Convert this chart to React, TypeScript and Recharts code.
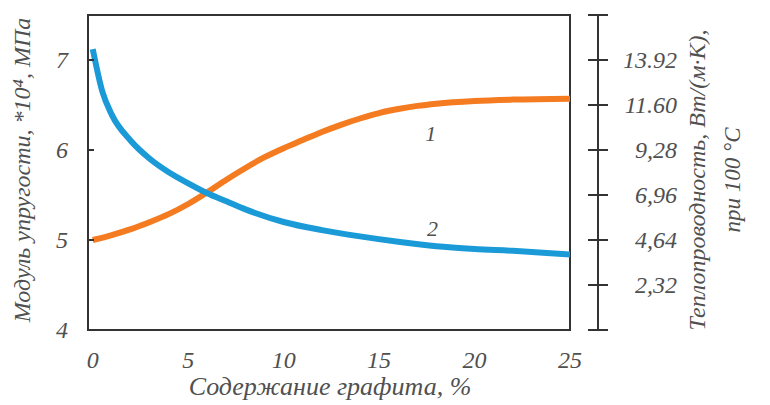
import React from 'react';
import { LineChart, Line, XAxis, YAxis, ReferenceArea, ReferenceDot } from 'recharts';

// curve 1 (orange) and curve 2 (blue), read in left-axis units
const orangeX = [0, 1, 2, 3, 4, 5, 6, 7, 8, 9, 10, 11, 12, 13, 14, 15, 16, 17, 18, 20, 22, 25];
const orangeY = [5.0, 5.055, 5.12, 5.2, 5.29, 5.4, 5.53, 5.67, 5.8, 5.92, 6.02, 6.11, 6.2, 6.28, 6.35, 6.41, 6.455, 6.49, 6.515, 6.545, 6.56, 6.57];
const blueX = [0, 0.5, 1, 2, 3, 4, 5, 6, 7, 8, 10, 12, 14, 16, 18, 20, 22, 25];
const blueY = [7.12, 6.65, 6.39, 6.1, 5.9, 5.75, 5.63, 5.52, 5.43, 5.34, 5.2, 5.11, 5.04, 4.98, 4.93, 4.9, 4.88, 4.84];

const xTicks = [0, 5, 10, 15, 20, 25];
const leftTicks = [4, 5, 6, 7];
const rightTicks = [0, 2.32, 4.64, 6.96, 9.28, 11.6, 13.92, 16.24];
const rightLabels: Record<string, string> = {
  '2.32': '2,32', '4.64': '4,64', '6.96': '6,96', '9.28': '9,28', '11.6': '11.60', '13.92': '13.92',
};

const orangeData = orangeX.map((x, i) => ({ x, v: orangeY[i] }));
const blueData = blueX.map((x, i) => ({ x, v: blueY[i] }));

const FONT = 'Liberation Serif, Times New Roman, serif';
const TXT = '#505050';
const AX = '#333';

const XTick = (props: any) => {
  const { x, y, payload } = props;
  return (
    <text x={x} y={y + 30} textAnchor="middle" fontFamily={FONT} fontStyle="italic" fontSize={24} fill={TXT}>
      {payload.value}
    </text>
  );
};

const LeftTick = (props: any) => {
  const { y, payload } = props;
  return (
    <g>
      {payload.value !== 4 && <line x1={88} x2={94} y1={y} y2={y} stroke={AX} strokeWidth={2} />}
      <text x={62} y={y + 8} textAnchor="middle" fontFamily={FONT} fontStyle="italic" fontSize={24} fill={TXT}>
        {payload.value}
      </text>
    </g>
  );
};

const RightTick = (props: any) => {
  const { y, payload } = props;
  const label = rightLabels[String(payload.value)];
  return (
    <g>
      <line x1={588} x2={608} y1={y} y2={y} stroke={AX} strokeWidth={2} />
      {label && (
        <text x={677} y={y + 8} textAnchor="end" fontFamily={FONT} fontStyle="italic" fontSize={24} fill={TXT}>
          {label}
        </text>
      )}
    </g>
  );
};

export default function App() {
  return (
    <div style={{ position: 'absolute', left: 0, top: 0, background: '#fff' }}>
      <LineChart width={770} height={405} margin={{ top: 15, right: 0, bottom: 0, left: 0 }}>
        <XAxis
          dataKey="x"
          type="number"
          domain={[-0.25, 25]}
          ticks={xTicks}
          padding={{ left: 0, right: 28 }}
          height={75}
          axisLine={false}
          tickLine={false}
          tick={<XTick />}
          allowDataOverflow
          label={{
            content: () => (
              <text x={330} y={395} textAnchor="middle" fontFamily={FONT} fontStyle="italic" fontSize={26} fill={TXT}>
                Содержание графита, %
              </text>
            ),
          }}
        />
        <YAxis
          yAxisId="left"
          domain={[4, 7.5]}
          ticks={leftTicks}
          width={88}
          axisLine={false}
          tickLine={false}
          tick={<LeftTick />}
          allowDataOverflow
          label={{
            content: () => (
              <text x={30} y={170} transform="rotate(-90 30 170)" textAnchor="middle" fontFamily={FONT} fontStyle="italic" fontSize={24} fill={TXT}>
                Модуль упругости, *10⁴, МПа
              </text>
            ),
          }}
        />
        <YAxis
          yAxisId="right"
          orientation="right"
          domain={[0, 16.24]}
          ticks={rightTicks}
          width={172}
          axisLine={{ stroke: AX, strokeWidth: 2 }}
          tickLine={false}
          tick={<RightTick />}
          allowDataOverflow
          label={{
            content: () => (
              <g fontFamily={FONT} fontStyle="italic" fill={TXT}>
                <text x={705} y={180} transform="rotate(-90 705 180)" textAnchor="middle" fontSize={24}>
                  Теплопроводность, Вт/(м·К),
                </text>
                <text x={740} y={180} transform="rotate(-90 740 180)" textAnchor="middle" fontSize={23}>
                  при 100 °С
                </text>
              </g>
            ),
          }}
        />
        <ReferenceArea
          yAxisId="left"
          x1={-0.25}
          x2={25}
          y1={4}
          y2={7.5}
          fill="none"
          fillOpacity={0}
          stroke={AX}
          strokeWidth={2}
          ifOverflow="visible"
        />
        <Line
          yAxisId="left"
          data={orangeData}
          dataKey="v"
          type="monotone"
          stroke="#f47b20"
          strokeWidth={6}
          dot={false}
          isAnimationActive={false}
        />
        <Line
          yAxisId="left"
          data={blueData}
          dataKey="v"
          type="monotone"
          stroke="#1b9ad8"
          strokeWidth={6}
          dot={false}
          isAnimationActive={false}
        />
        <ReferenceDot
          yAxisId="left"
          x={17.7}
          y={6.19}
          r={0}
          ifOverflow="visible"
          label={{ value: '1', fontFamily: FONT, fontStyle: 'italic', fontSize: 22, fill: TXT, position: 'center' }}
        />
        <ReferenceDot
          yAxisId="left"
          x={17.8}
          y={5.13}
          r={0}
          ifOverflow="visible"
          label={{ value: '2', fontFamily: FONT, fontStyle: 'italic', fontSize: 22, fill: TXT, position: 'center' }}
        />
      </LineChart>
    </div>
  );
}
